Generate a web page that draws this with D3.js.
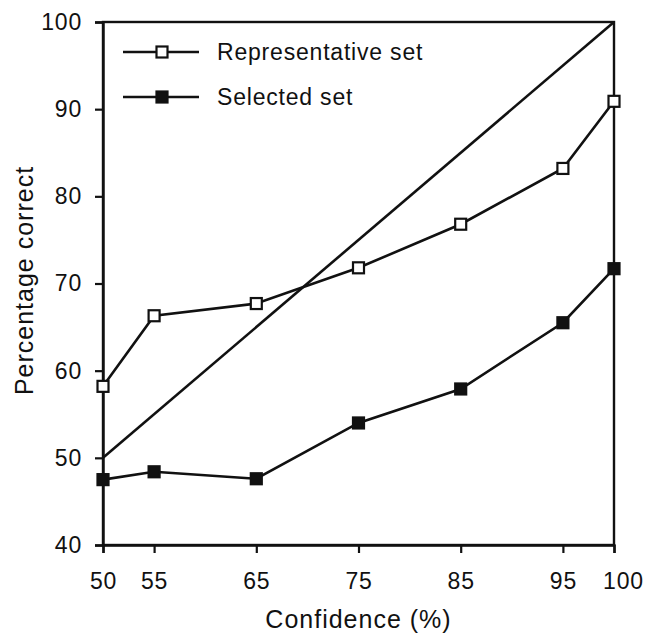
<!DOCTYPE html>
<html>
<head>
<meta charset="utf-8">
<script src="https://cdn.jsdelivr.net/npm/d3@7"></script>
<style>
  body { margin: 0; background: #fff; }
  text { font-family: "Liberation Sans", Arial, sans-serif; fill: #111; }
</style>
</head>
<body>
<div id="chart"></div>
<script>
var confidence = [50, 55, 65, 75, 85, 95, 100];
var representative = [58.2, 66.3, 67.7, 71.8, 76.8, 83.2, 90.9];
var selected = [47.5, 48.4, 47.6, 54.0, 57.9, 65.5, 71.7];
var xTicks = [50, 55, 65, 75, 85, 95, 100];
var yTicks = [40, 50, 60, 70, 80, 90, 100];

var margin = { top: 22, left: 103, right: 32, bottom: 89 },
    width = 646 - margin.left - margin.right,
    height = 634 - margin.top - margin.bottom;

var svg = d3.select("#chart")
  .append("svg")
  .attr("width", 646)
  .attr("height", 634)
  .append("g")
  .attr("transform", "translate(" + margin.left + "," + margin.top + ")");

var x = d3.scaleLinear().domain([50, 100]).range([0, width]);
var y = d3.scaleLinear().domain([40, 100]).range([height, 0]);

// frame
svg.append("rect")
  .attr("width", width).attr("height", height)
  .attr("fill", "none").attr("stroke", "#111").attr("stroke-width", 2.4);

var xAxis = svg.append("g")
  .attr("transform", "translate(0," + height + ")")
  .call(d3.axisBottom(x).tickValues(xTicks).tickSize(8).tickPadding(20));
var yAxis = svg.append("g")
  .call(d3.axisLeft(y).tickValues(yTicks).tickSize(8).tickPadding(13));

[xAxis, yAxis].forEach(function(a) {
  a.select(".domain").attr("stroke-width", 2.4).attr("stroke", "#111");
  a.selectAll(".tick line").attr("stroke-width", 2.2).attr("stroke", "#111");
  a.selectAll(".tick text").style("font-size", "23px").attr("fill", "#111")
    .style("letter-spacing", "0.8px")
    .style("font-family", "'Liberation Sans', Arial, sans-serif");
});

// the last label sits a little right of its tick, clear of "95"
xAxis.selectAll(".tick text")
  .filter(function(d) { return d === 100; })
  .attr("dx", 9);

svg.append("text")
  .attr("x", width / 2).attr("y", height + 83)
  .attr("text-anchor", "middle").style("font-size", "25px")
  .style("letter-spacing", "1px")
  .text("Confidence (%)");

svg.append("text")
  .attr("transform", "translate(-70," + (height / 2 - 3) + ") rotate(-90)")
  .attr("text-anchor", "middle").style("font-size", "25px")
  .style("letter-spacing", "1px")
  .text("Percentage correct");

// diagonal reference line
svg.append("line")
  .attr("x1", x(50)).attr("y1", y(50))
  .attr("x2", x(100)).attr("y2", y(100))
  .attr("stroke", "#111").attr("stroke-width", 2.6);

var line = d3.line()
  .x(function(d) { return x(d[0]); })
  .y(function(d) { return y(d[1]); });

var series = [
  { name: "Representative set", values: representative, fill: "#fff" },
  { name: "Selected set", values: selected, fill: "#111" }
];

series.forEach(function(s) {
  var pts = confidence.map(function(c, i) { return [c, s.values[i]]; });
  svg.append("path")
    .datum(pts)
    .attr("d", line)
    .attr("fill", "none").attr("stroke", "#111").attr("stroke-width", 2.6);
  svg.selectAll(null)
    .data(pts)
    .enter().append("rect")
    .attr("x", function(d) { return x(d[0]) - 5.5; })
    .attr("y", function(d) { return y(d[1]) - 5.5; })
    .attr("width", 11).attr("height", 11)
    .attr("fill", s.fill).attr("stroke", "#111").attr("stroke-width", 2.2);
});

// legend
var legend = svg.append("g").attr("transform", "translate(20,30)");
series.forEach(function(s, i) {
  var g = legend.append("g").attr("transform", "translate(0," + (i * 45) + ")");
  g.append("line").attr("x1", 0).attr("x2", 76)
    .attr("stroke", "#111").attr("stroke-width", 2.4);
  g.append("rect").attr("x", 33.5).attr("y", -5.5).attr("width", 11).attr("height", 11)
    .attr("fill", s.fill).attr("stroke", "#111").attr("stroke-width", 2.2);
  g.append("text").attr("x", 94).attr("y", 8).style("font-size", "23px")
    .style("letter-spacing", "0.8px").text(s.name);
});
</script>
</body>
</html>
